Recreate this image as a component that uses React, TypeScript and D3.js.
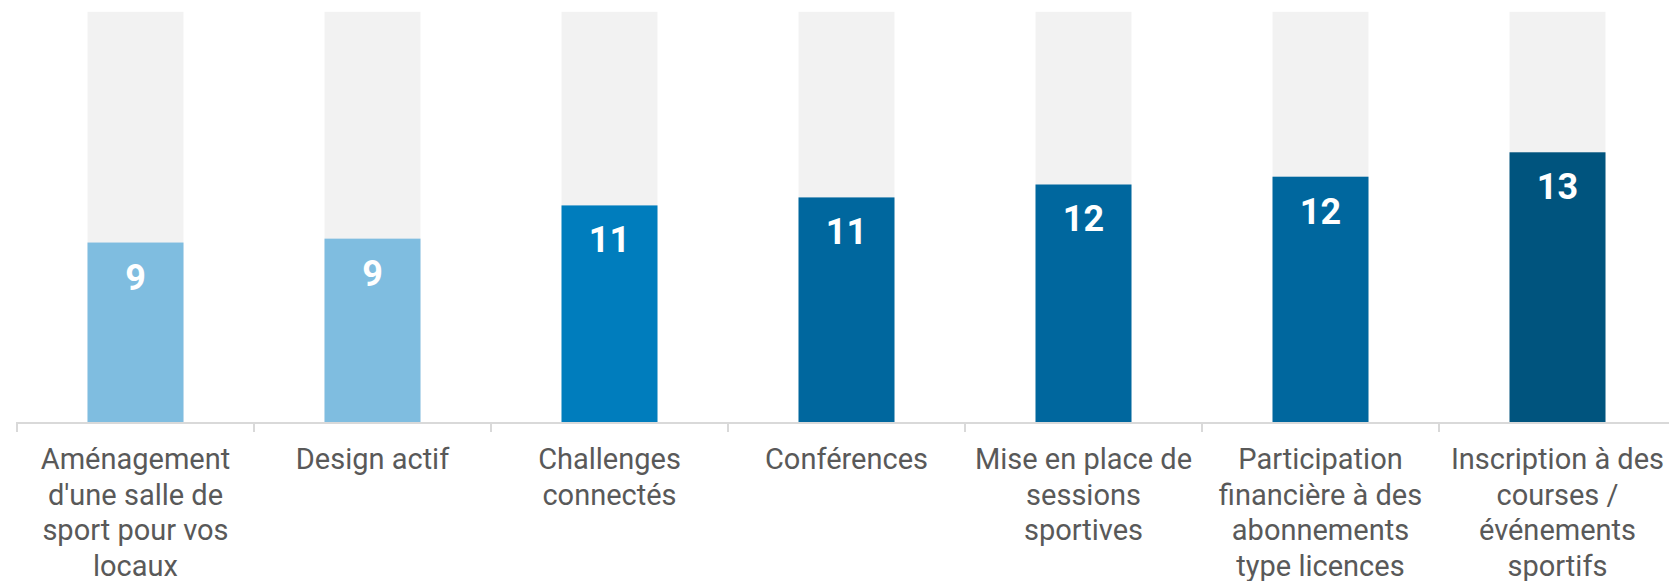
import React from "react";
import * as d3 from "d3";

const categories: string[] = [
  "Aménagement\nd'une salle de\nsport pour vos\nlocaux",
  "Design actif",
  "Challenges\nconnectés",
  "Conférences",
  "Mise en place de\nsessions\nsportives",
  "Participation\nfinancière à des\nabonnements\ntype licences",
  "Inscription à des\ncourses /\névénements\nsportifs",
];
const values: number[] = [8.75, 8.94, 10.56, 10.95, 11.58, 11.96, 13.15];
const labels: string[] = ["9", "9", "11", "11", "12", "12", "13"];
const barColors: string[] = ["#7fbde0", "#7fbde0", "#007dbd", "#00679e", "#00679e", "#00679e", "#00547e"];
const maxValue = 20;

const W = 1669;
const H = 581;
const left = 17;
const step = 237;
const baseY = 422;
const topY = 11.8;

export default function App() {
  const x = d3
    .scaleBand<string>()
    .domain(categories)
    .range([left, left + step * categories.length])
    .paddingInner(0.595)
    .paddingOuter(0.2975);
  const y = d3.scaleLinear().domain([0, maxValue]).range([baseY, topY]);
  const bw = x.bandwidth();
  const ticks = d3.range(categories.length + 1).map((i) => left + i * step);

  return (
    <svg
      width={W}
      height={H}
      style={{ position: "absolute", left: 0, top: 0, background: "#fff" }}
      fontFamily="Roboto, sans-serif"
    >
      {categories.map((c, i) => (
        <g key={i}>
          <rect x={x(c)} y={y(maxValue)} width={bw} height={y(0) - y(maxValue)} fill="#f2f2f2" />
          <rect x={x(c)} y={y(values[i])} width={bw} height={y(0) - y(values[i])} fill={barColors[i]} />
          <text
            x={(x(c) as number) + bw / 2}
            y={y(values[i]) + 47}
            textAnchor="middle"
            fill="#fff"
            fontWeight="bold"
            fontSize={36}
          >
            {labels[i]}
          </text>
        </g>
      ))}
      <line x1={left} x2={W} y1={baseY + 1} y2={baseY + 1} stroke="#d9d9d9" strokeWidth={2} />
      {ticks.map((t, i) => (
        <line key={i} x1={t} x2={t} y1={baseY} y2={baseY + 10} stroke="#d9d9d9" strokeWidth={2} />
      ))}
      {categories.map((c, i) => (
        <text
          key={"l" + i}
          x={(x(c) as number) + bw / 2}
          y={469}
          textAnchor="middle"
          fill="#595959"
          fontSize={29}
        >
          {c.split("\n").map((line, j) => (
            <tspan key={j} x={(x(c) as number) + bw / 2} dy={j === 0 ? 0 : 35.7}>
              {line}
            </tspan>
          ))}
        </text>
      ))}
    </svg>
  );
}
